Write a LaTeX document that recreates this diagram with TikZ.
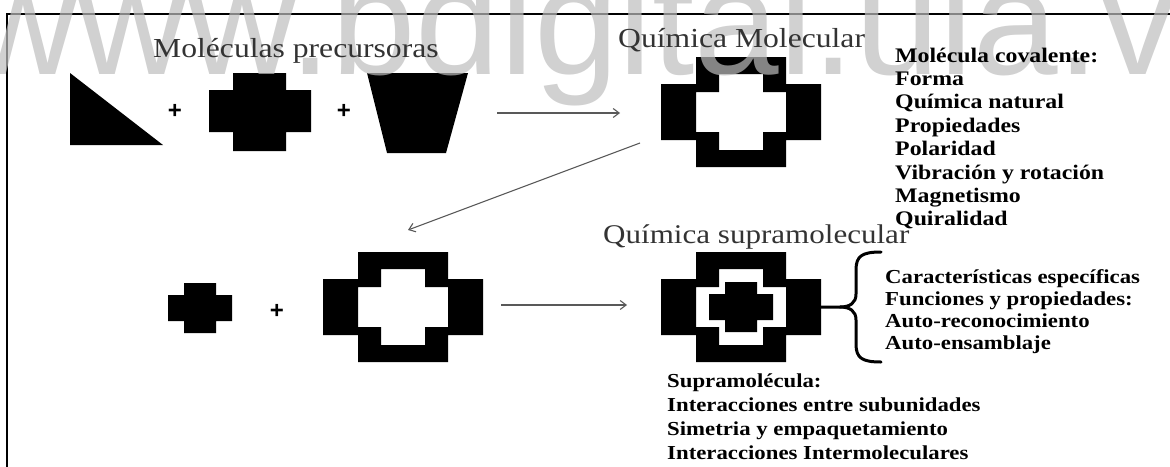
\documentclass[tikz,border=0pt]{standalone}
\usepackage{fontspec}
\setmainfont{Liberation Serif}
\newfontfamily\wmsans{Liberation Sans}
\usetikzlibrary{arrows.meta}
\definecolor{wmgray}{gray}{0.74}
\definecolor{headgray}{gray}{0.2}
\definecolor{arrowgray}{gray}{0.35}
\begin{document}
\begin{tikzpicture}[x=1pt,y=-1pt,
  frame/.style={draw=black, line width=2pt},
  conn/.style={draw=arrowgray, line width=1.1pt, -{Straight Barb[length=6pt,width=9pt]}},
  heading/.style={anchor=base west, inner sep=0pt, text=headgray, xscale=1.15, font=\fontsize{27.5}{27.5}\selectfont},
  itemA/.style={anchor=base west, inner sep=0pt, xscale=1.15, font=\bfseries\fontsize{20.7}{20.7}\selectfont},
  itemB/.style={anchor=base west, inner sep=0pt, xscale=1.15, font=\bfseries\fontsize{19.8}{19.8}\selectfont},
  plus/.style={inner sep=0pt, font=\wmsans\bfseries\fontsize{24}{24}\selectfont},
  bracestyle/.style={draw=black, line width=3pt},
  watermark/.style={anchor=base west, inner sep=0pt, text=wmgray, text opacity=0.7,
    font=\wmsans\fontsize{152}{152}\selectfont},
  ringcross/.pic={
    \fill[black, even odd rule]
      (35,0) -- (125,0) -- (125,27) -- (160,27) -- (160,83) -- (125,83) -- (125,110)
      -- (35,110) -- (35,83) -- (0,83) -- (0,27) -- (35,27) -- cycle
      (58,17) -- (102,17) -- (102,35) -- (125,35) -- (125,75) -- (102,75) -- (102,93)
      -- (58,93) -- (58,75) -- (35,75) -- (35,35) -- (58,35) -- cycle;
  },
  smallcross/.pic={
    \fill[black] (16,0) -- (48,0) -- (48,12) -- (64,12) -- (64,38) -- (48,38) -- (48,50)
      -- (16,50) -- (16,38) -- (0,38) -- (0,12) -- (16,12) -- cycle;
  },
  bigcross/.pic={
    \fill[black] (24,0) -- (77,0) -- (77,17) -- (102,17) -- (102,59) -- (77,59) -- (77,78)
      -- (24,78) -- (24,59) -- (0,59) -- (0,17) -- (24,17) -- cycle;
  }
]
\useasboundingbox (0,0) rectangle (1170,466);

% frame
\draw[frame] (7,14) -- (1171,14);
\draw[frame] (7,13) -- (7,467);

% row 1 shapes
\fill[black] (70,73) -- (70,145) -- (163,145) -- cycle;
\pic at (209,73) {bigcross};
\fill[black] (367,73) -- (468,73) -- (446,153) -- (387,153) -- cycle;
\pic at (661,57) {ringcross};

% row 2 shapes
\pic at (168,283) {smallcross};
\pic at (323,252) {ringcross};
\pic at (661,252) {ringcross};
\pic at (709,282) {smallcross};

% connectors
\coordinate (a1s) at (497,113);
\coordinate (a1e) at (620,113);
\coordinate (a2s) at (640,143);
\coordinate (a2e) at (408,230);
\coordinate (a3s) at (501,305);
\coordinate (a3e) at (627,305);
\draw[conn] (a1s) -- (a1e);
\draw[conn] (a2s) -- (a2e);
\draw[conn] (a3s) -- (a3e);

% brace
\coordinate (bt) at (881,252);
\coordinate (bb) at (881,362);
\coordinate (bm) at (821,307);
\draw[bracestyle, line cap=round] (bt) .. controls (862,252) and (856,256) .. (856,270)
  -- (856,294) .. controls (856,303) and (850,307) .. (840,307) -- (bm);
\draw[bracestyle, line cap=round] (bb) .. controls (862,362) and (856,358) .. (856,344)
  -- (856,320) .. controls (856,311) and (850,307) .. (840,307);

% watermark
\node[watermark] (wm) at (-32,74) {www.bdigital.ula.ve};

% plus signs
\node[plus] (p1) at (175,111) {+};
\node[plus] (p2) at (344,111) {+};
\node[plus] (p3) at (277,311) {+};

% headings
\node[heading] (hprec) at (153,57) {Moléculas precursoras};
\node[heading] (hmol) at (618,47) {Química Molecular};
\node[heading, font=\fontsize{27}{27}\selectfont] (hsup) at (603,243) {Química supramolecular};

% molecular list
\node[itemA] (m1) at (895,62) {Molécula covalente:};
\node[itemA] (m2) at (895,85.4) {Forma};
\node[itemA] (m3) at (895,108.8) {Química natural};
\node[itemA] (m4) at (895,132.2) {Propiedades};
\node[itemA] (m5) at (895,155.6) {Polaridad};
\node[itemA] (m6) at (895,179) {Vibración y rotación};
\node[itemA] (m7) at (895,202.4) {Magnetismo};
\node[itemA] (m8) at (895,225.4) {Quiralidad};

% specific list
\node[itemB] (s1) at (885,283) {Características específicas};
\node[itemB] (s2) at (885,305) {Funciones y propiedades:};
\node[itemB] (s3) at (885,327) {Auto-reconocimiento};
\node[itemB] (s4) at (885,349) {Auto-ensamblaje};

% supramolecule list
\node[itemB] (u1) at (667,387) {Supramolécula:};
\node[itemB] (u2) at (667,411) {Interacciones entre subunidades};
\node[itemB] (u3) at (667,435) {Simetria y empaquetamiento};
\node[itemB] (u4) at (667,459) {Interacciones Intermoleculares};
\end{tikzpicture}
\end{document}
